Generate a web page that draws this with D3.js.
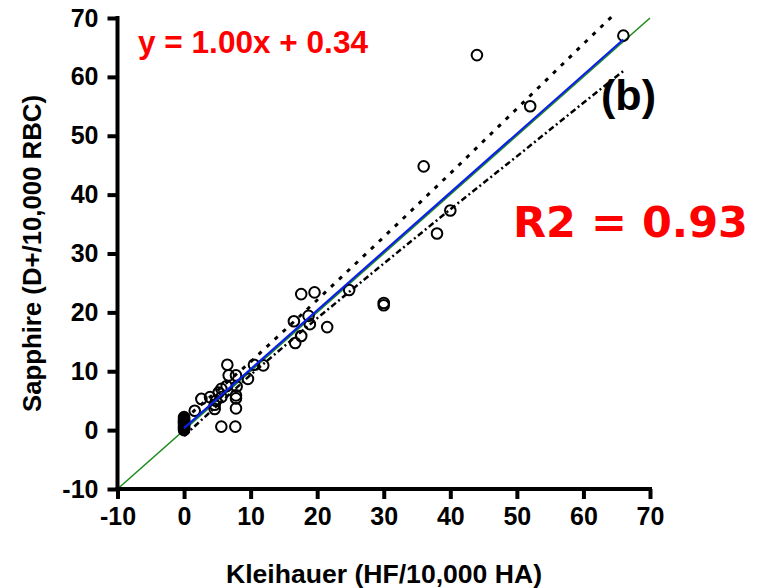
<!DOCTYPE html>
<html>
<head>
<meta charset="utf-8">
<script src="https://cdn.jsdelivr.net/npm/d3@7"></script>
<style>
  html, body { margin: 0; padding: 0; background: #fff; }
  svg { display: block; }
</style>
</head>
<body>
<svg id="chart" width="767" height="588"></svg>
<script>
// ---- data ----
const xTicks = [-10, 0, 10, 20, 30, 40, 50, 60, 70];
const yTicks = [-10, 0, 10, 20, 30, 40, 50, 60, 70];

const kleihauer = [66, 44, 52, 36, 40, 38, 30, 30, 17.6, 19.6, 24.8, 21.5, 16.5, 18.7, 18.9, 17.6, 16.7,
  10.5, 11.9, 6.5, 6.7, 7.8, 9.6, 5.6, 6.4, 7.9, 7.8, 7.8, 5.6, 4.8, 4.6, 4.6, 3.9, 2.6, 1.6, 7.8, 5.6, 7.7, 5.2,
  0, 0, 0, 0, 0, 0, 0, 0, 0, 0, 0, 0];
const sapphire = [67, 63.7, 55, 44.8, 37.3, 33.4, 21.2, 21.6, 23.1, 23.4, 23.8, 17.5, 18.5, 19.4, 18.0, 16.0, 14.8,
  11.1, 11.0, 11.1, 9.3, 9.3, 8.7, 7.0, 7.5, 7.4, 5.9, 5.4, 5.6, 5.0, 4.3, 3.6, 5.6, 5.3, 3.3, 3.7, 0.6, 0.6, 6.4,
  0, 0.2, 0.4, 0.6, 0.8, 1.0, 1.2, 1.4, 1.6, 1.8, 2.0, 2.2];

const identityX = [-10, 70];
const identityY = [-10, 70];
const fitX = [0, 66];
const fitY = [0.34, 66.34];

const upperBandX = [0, 10, 20, 30, 40, 50, 60, 64.5];
const upperBandY = [1.8, 11.6, 22.1, 32.8, 43.6, 54.6, 65.6, 70.5];
const lowerBandX = [0, 10, 20, 30, 40, 50, 60, 66];
const lowerBandY = [-1.0, 9.4, 19.0, 28.3, 37.5, 46.5, 55.6, 61.0];

const equationLabel = "y = 1.00x + 0.34";
const r2Label = "R2 = 0.93";
const panelLabel = "(b)";
const xTitle = "Kleihauer (HF/10,000 HA)";
const yTitle = "Sapphire (D+/10,000 RBC)";

// ---- drawing ----
const svg = d3.select("#chart");
const x = d3.scaleLinear().domain([-10, 70]).range([117.5, 650]);
const y = d3.scaleLinear().domain([-10, 70]).range([489, 18]);
const FONT = "'Liberation Sans', Arial, Helvetica, sans-serif";

const line = d3.line().x(d => x(d[0])).y(d => y(d[1]));

// identity line (green)
svg.append("path")
  .datum(d3.zip(identityX, identityY))
  .attr("d", line).attr("fill", "none")
  .attr("stroke", "#1a8a1a").attr("stroke-width", 1.5);

// confidence bands
svg.append("path")
  .datum(d3.zip(upperBandX, upperBandY))
  .attr("d", line).attr("fill", "none")
  .attr("stroke", "#000").attr("stroke-width", 3)
  .attr("stroke-dasharray", "4,7");
svg.append("path")
  .datum(d3.zip(lowerBandX, lowerBandY))
  .attr("d", line).attr("fill", "none")
  .attr("stroke", "#000").attr("stroke-width", 2.5)
  .attr("stroke-dasharray", "6,3,2,3");

// points
svg.append("g").selectAll("circle")
  .data(d3.zip(kleihauer, sapphire))
  .join("circle")
  .attr("cx", d => x(d[0])).attr("cy", d => y(d[1]))
  .attr("r", 5.3)
  .attr("fill", "none").attr("stroke", "#000").attr("stroke-width", 2);

// regression line (blue)
svg.append("path")
  .datum(d3.zip(fitX, fitY))
  .attr("d", line).attr("fill", "none")
  .attr("stroke", "#0a1ee6").attr("stroke-width", 2.2);

// axes
const xAxis = d3.axisBottom(x).tickValues(xTicks).tickSize(10).tickPadding(8).tickFormat(d => String(d));
const yAxis = d3.axisLeft(y).tickValues(yTicks).tickSize(10).tickPadding(9).tickFormat(d => String(d));

const gx = svg.append("g").attr("transform", `translate(0,${y(-10)})`).call(xAxis);
const gy = svg.append("g").attr("transform", `translate(${x(-10)},0)`).call(yAxis);

[gx, gy].forEach(g => {
  g.select(".domain").attr("stroke", "#000").attr("stroke-width", 4);
  g.selectAll(".tick line").attr("stroke", "#000").attr("stroke-width", 4);
  g.selectAll(".tick text")
    .attr("fill", "#000")
    .style("font-family", FONT)
    .style("font-weight", "bold")
    .style("font-size", "25px");
});
gx.select(".domain").attr("d", `M${x(-10) - 2},0H${x(70) + 2}`);
gy.select(".domain").attr("d", `M0,${y(70) - 2}V${y(-10) + 2}`);

// axis titles
svg.append("text")
  .attr("x", 226).attr("y", 583)
  .attr("textLength", 316).attr("lengthAdjust", "spacingAndGlyphs")
  .style("font-family", FONT).style("font-weight", "bold").style("font-size", "25px")
  .attr("fill", "#000")
  .text(xTitle);

svg.append("text")
  .attr("transform", "translate(41,412) rotate(-90)")
  .attr("textLength", 317).attr("lengthAdjust", "spacingAndGlyphs")
  .style("font-family", FONT).style("font-weight", "bold").style("font-size", "25px")
  .attr("fill", "#000")
  .text(yTitle);

// annotations
svg.append("text")
  .attr("x", 138).attr("y", 53)
  .attr("textLength", 230).attr("lengthAdjust", "spacingAndGlyphs")
  .style("font-family", FONT).style("font-weight", "bold").style("font-size", "31px")
  .attr("fill", "#ff0000")
  .text(equationLabel);

svg.append("text")
  .attr("x", 601).attr("y", 110)
  .attr("textLength", 55).attr("lengthAdjust", "spacingAndGlyphs")
  .style("font-family", FONT).style("font-weight", "bold").style("font-size", "43px")
  .attr("fill", "#000")
  .text(panelLabel);

svg.append("text")
  .attr("x", 513).attr("y", 237)
  .attr("textLength", 235).attr("lengthAdjust", "spacingAndGlyphs")
  .style("font-family", "'DejaVu Sans', Verdana, sans-serif").style("font-weight", "bold").style("font-size", "43px")
  .attr("fill", "#ff0000")
  .text(r2Label);
</script>
</body>
</html>
